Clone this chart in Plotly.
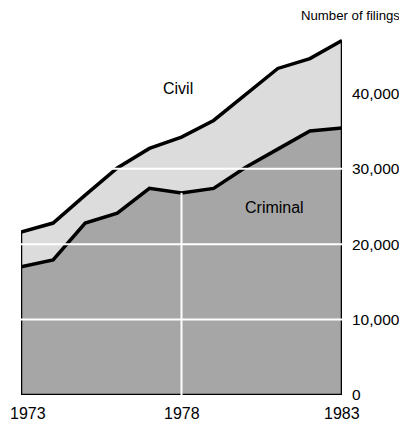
import plotly.graph_objects as go

years = [1973, 1974, 1975, 1976, 1977, 1978, 1979, 1980, 1981, 1982, 1983]
criminal = [17000, 17900, 22800, 24100, 27400, 26800, 27400, 30200, 32600, 35000, 35400]
civil = [4600, 4900, 3700, 6000, 5300, 7400, 9000, 9700, 10700, 9600, 11600]
y_ticks = [0, 10000, 20000, 30000, 40000]
x_ticks = [1973, 1978, 1983]

total = [a + b for a, b in zip(criminal, civil)]
font = "Liberation Sans, Arial, Helvetica, sans-serif"

fig = go.Figure()
fig.add_trace(go.Scatter(x=years, y=criminal, mode="lines", fill="tozeroy",
                         fillcolor="#a6a6a6", line=dict(color="black", width=3.5),
                         hoverinfo="skip", showlegend=False))
fig.add_trace(go.Scatter(x=years, y=total, mode="lines", fill="tonexty",
                         fillcolor="#dcdcdc", line=dict(color="black", width=3.5),
                         hoverinfo="skip", showlegend=False))
# outline of sides and base
fig.add_trace(go.Scatter(x=[years[0], years[0], years[-1], years[-1]],
                         y=[total[0], 0, 0, total[-1]], mode="lines",
                         line=dict(color="black", width=2.5),
                         hoverinfo="skip", showlegend=False))

shapes = []
for v in y_ticks[1:-1]:
    shapes.append(dict(type="line", xref="x", yref="y", x0=years[0], x1=years[-1],
                       y0=v, y1=v, line=dict(color="white", width=2), layer="above"))
mid = x_ticks[1]
shapes.append(dict(type="line", xref="x", yref="y", x0=mid, x1=mid, y0=0,
                   y1=criminal[years.index(mid)], line=dict(color="white", width=2),
                   layer="above"))

annotations = [
    dict(text="Number of filings", xref="paper", yref="paper", x=1.187, y=1.0,
         yshift=18, xanchor="right", yanchor="middle", showarrow=False,
         font=dict(family=font, size=13.2, color="black")),
    dict(text="Civil", xref="x", yref="y", x=1977.9, y=40700, showarrow=False,
         font=dict(family=font, size=16, color="black")),
    dict(text="Criminal", xref="x", yref="y", x=1980.9, y=24900, showarrow=False,
         font=dict(family=font, size=16, color="black")),
]
# year labels under the axis (first one kept inside the page edge)
for i, t in enumerate(x_ticks):
    annotations.append(dict(text=str(t), xref="x", yref="paper", x=t, y=0,
                            xanchor="left" if i == 0 else "center",
                            xshift=-13 if i == 0 else 0,
                            yanchor="top", yshift=-8, showarrow=False,
                            font=dict(family=font, size=16, color="black")))

# page body has an 8px default margin, so the figure is sized to fit the window
fig.update_layout(
    width=399, height=417,
    margin=dict(l=13, r=65, t=25, b=30),
    paper_bgcolor="white", plot_bgcolor="white",
    shapes=shapes,
    annotations=annotations,
    xaxis=dict(range=[1973, 1983], tickvals=x_ticks, showticklabels=False,
               showgrid=False, zeroline=False, showline=False, ticks="",
               automargin=False),
    yaxis=dict(range=[0, 48000], side="right", tickvals=y_ticks,
               ticktext=[f"{t:,}" for t in y_ticks], showgrid=False, zeroline=False,
               showline=False, ticks="", ticklabelstandoff=9, automargin=False,
               ticklabeloverflow="allow",
               tickfont=dict(family=font, size=15.5, color="black")),
)

fig.write_html("out.html")
